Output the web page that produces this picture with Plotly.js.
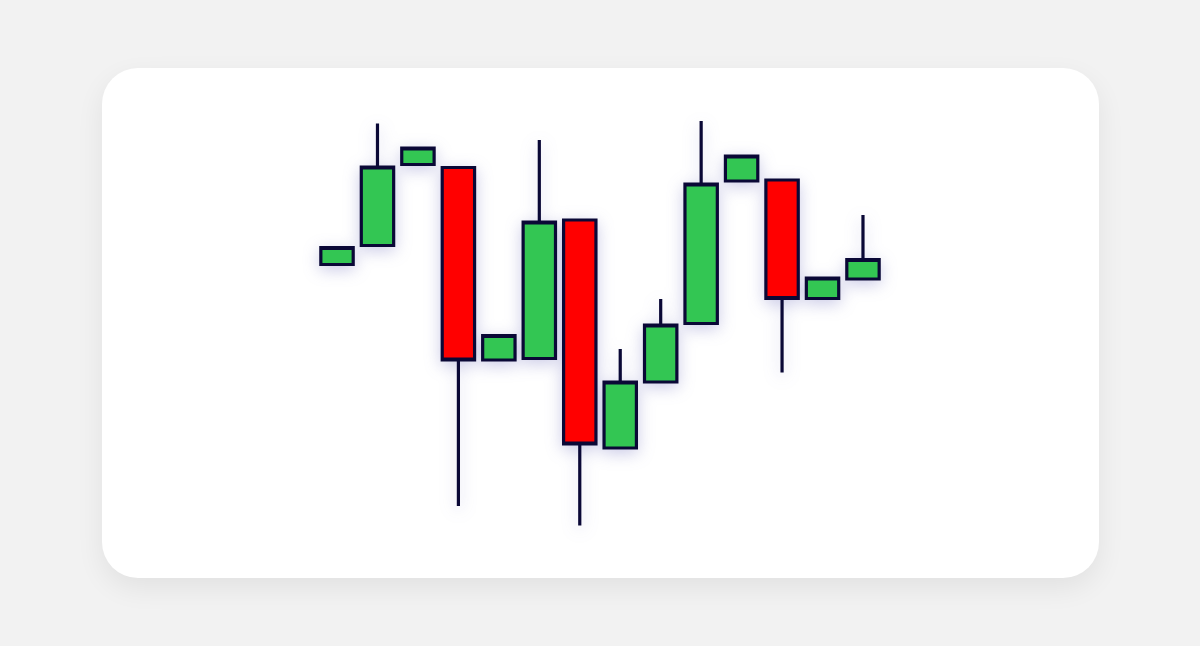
<!DOCTYPE html>
<html>
<head>
<meta charset="utf-8">
<script src="https://cdn.plot.ly/plotly-3.0.1.min.js"></script>
<style>
  html, body {
    margin: 0;
    padding: 0;
    width: 1200px;
    height: 646px;
    background: #f2f2f2;
    overflow: hidden;
  }
  #card {
    position: absolute;
    left: 102px;
    top: 68px;
    width: 997px;
    height: 510px;
    background: #ffffff;
    border-radius: 36px;
    box-shadow: 0 10px 28px rgba(0, 0, 0, 0.07);
  }
  #chart {
    position: absolute;
    left: 0;
    top: 0;
    width: 1200px;
    height: 646px;
  }
  /* Soft glow round the candles */
  #chart .boxlayer {
    filter: drop-shadow(0 4px 8px rgba(70, 70, 170, 0.28));
  }
</style>
</head>
<body>
<div id="card"></div>
<div id="chart"></div>
<script>
// Candle positions (one per session)
const sessions = [0, 1, 2, 3, 4, 5, 6, 7, 8, 9, 10, 11, 12, 13];

// Prices
const openPrices = [67.1, 70.9, 87.1, 86.5, 48.0, 48.3, 76.0, 30.4, 43.6, 55.3, 83.8, 84.0, 60.3, 64.2];
const highPrices = [70.5, 95.3, 90.4, 86.5, 52.9, 92.0, 76.0, 50.2, 60.2, 95.8, 88.8, 84.0, 64.4, 77.0];
const lowPrices = [67.1, 70.9, 87.1, 18.8, 48.0, 48.3, 14.9, 30.4, 43.6, 55.3, 83.8, 45.5, 60.3, 64.2];
const closePrices = [70.5, 86.6, 90.4, 48.0, 52.9, 75.6, 31.2, 43.6, 55.0, 83.2, 88.8, 60.3, 64.4, 68.1];

// Colours
const upColor = '#33c653';
const downColor = '#ff0000';
const edgeColor = '#0a0836';

// Plot the candlestick chart
function plotGraph() {
  const trace1 = {
    x: sessions,
    open: openPrices,
    high: highPrices,
    low: lowPrices,
    close: closePrices,
    type: 'candlestick',
    whiskerwidth: 0,
    increasing: {
      fillcolor: upColor,
      line: { color: edgeColor, width: 3.2 },
    },
    decreasing: {
      fillcolor: downColor,
      line: { color: edgeColor, width: 3.2 },
    },
    hoverinfo: 'skip',
  };

  const data = [trace1];

  const layout = {
    width: 1200,
    height: 646,
    margin: { l: 0, r: 0, t: 0, b: 0 },
    paper_bgcolor: 'rgba(0,0,0,0)',
    plot_bgcolor: 'rgba(0,0,0,0)',
    showlegend: false,
    boxgap: 0.2,
    boxgroupgap: 0,
    xaxis: {
      visible: false,
      range: [-8.33, 21.33],
      rangeslider: { visible: false },
      fixedrange: true,
    },
    yaxis: {
      visible: false,
      range: [-9.2, 120],
      fixedrange: true,
    },
  };

  const config = { staticPlot: true, displayModeBar: false };

  Plotly.newPlot('chart', data, layout, config);
}

plotGraph();
</script>
</body>
</html>
